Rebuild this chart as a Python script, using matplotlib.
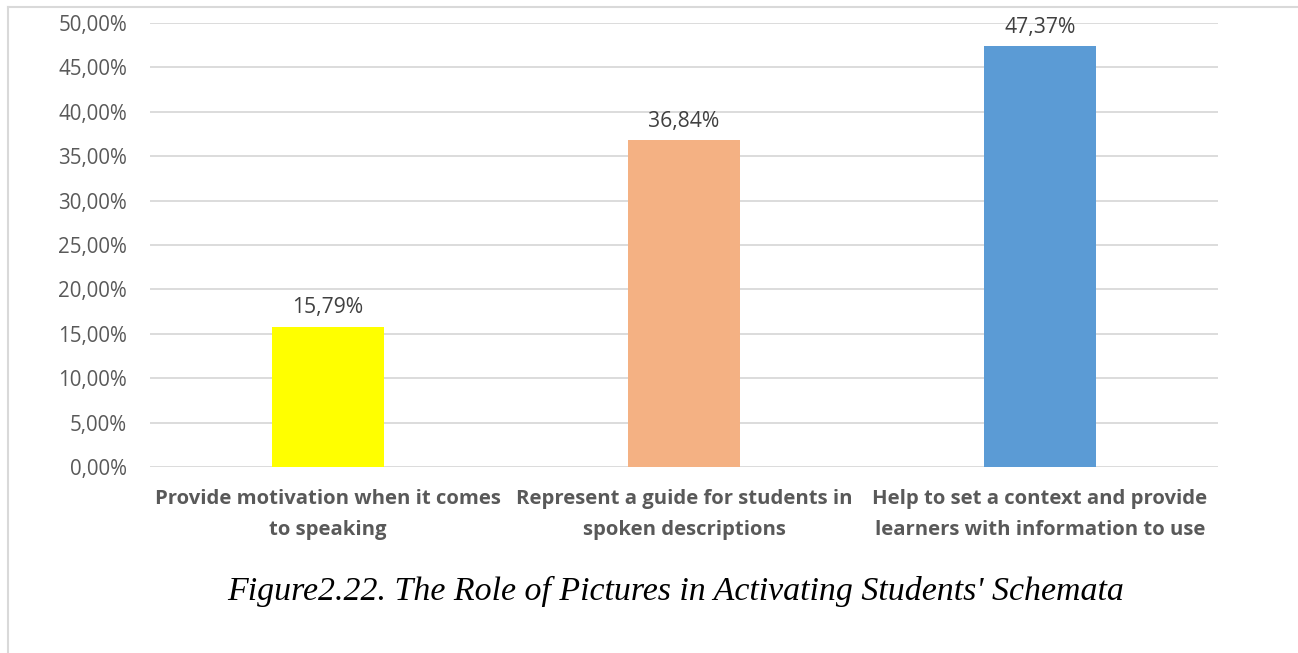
import matplotlib.pyplot as plt
from matplotlib.lines import Line2D

# data
categories = [
    "Provide motivation when it comes\nto speaking",
    "Represent a guide for students in\nspoken descriptions",
    "Help to set a context and provide\nlearners with information to use",
]
values = [0.1579, 0.3684, 0.4737]
colors = ["#FFFF00", "#F4B183", "#5B9BD5"]
yticks = [i * 0.05 for i in range(11)]
caption = "Figure2.22. The Role of Pictures in Activating Students' Schemata"


def pct(v):
    return f"{v * 100:.2f}%".replace(".", ",")


W, H = 1298, 653
fig = plt.figure(figsize=(W / 100, H / 100), dpi=100)
ax = fig.add_axes([150 / W, 1 - 467 / H, 1068 / W, 444 / H])

x = list(range(len(categories)))
ax.bar(x, values, width=0.315, color=colors, zorder=3)
ax.set_xlim(-0.5, 2.5)
ax.set_ylim(0, 0.5)

ax.set_yticks(yticks)
ax.set_yticklabels([pct(t) for t in yticks], fontsize=14.8, color="#595959",
                   family="Open Sans")
ax.set_xticks(x)
ax.set_xticklabels(categories, fontsize=14.6, color="#595959", fontweight="bold",
                   family="Open Sans", linespacing=1.7)
ax.tick_params(axis="both", length=0)
ax.tick_params(axis="y", pad=16.5)
ax.tick_params(axis="x", pad=16)
ax.grid(axis="y", color="#D9D9D9", linewidth=1.3, zorder=0)
for s in ax.spines.values():
    s.set_visible(False)

for i, v in enumerate(values):
    ax.annotate(pct(v), (i, v), xytext=(0, 6), textcoords="offset points",
                ha="center", va="bottom", fontsize=15.2, color="#404040",
                family="Open Sans")

fig.text(676 / W, 1 - 591 / H, caption, ha="center", va="center",
         fontsize=24.4, style="italic", family="Liberation Serif", color="black")

# chart frame
fig.add_artist(Line2D([8 / W, 8 / W], [0, 1 - 7 / H], color="#D9D9D9",
                      linewidth=1.5, transform=fig.transFigure))
fig.add_artist(Line2D([8 / W, 1], [1 - 7 / H, 1 - 7 / H], color="#D9D9D9",
                      linewidth=1.5, transform=fig.transFigure))

fig.savefig("out.png", dpi=100)
